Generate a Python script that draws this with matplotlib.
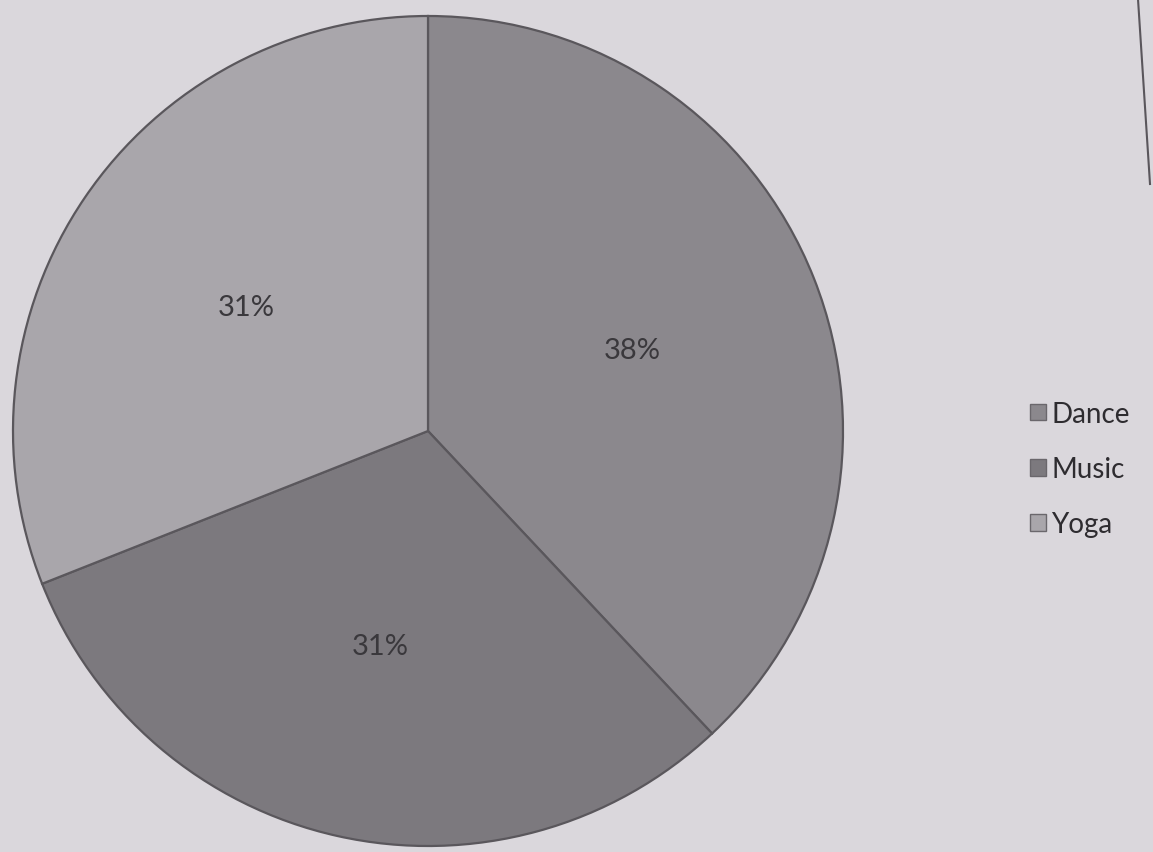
import matplotlib
matplotlib.use('Agg')
import matplotlib.pyplot as plt
from matplotlib.patches import Patch

labels = ['Dance', 'Music', 'Yoga']
shares = [38, 31, 31]
colors = ['#8b888d', '#7c797e', '#a9a6ab']
bg = '#dad7dc'

fig = plt.figure(figsize=(11.53, 8.53), dpi=100, facecolor=bg)
ax = fig.add_axes([0, 0, 1, 1])
ax.set_facecolor(bg)

wedges, texts, autotexts = ax.pie(
    shares, colors=colors, startangle=90, counterclock=False,
    center=(428, 853 - 432), radius=415, frame=True,
    autopct='%d%%', pctdistance=0.53,
    wedgeprops=dict(edgecolor='#5a575c', linewidth=1.6),
    textprops=dict(fontsize=21, color='#3a383c', family='Lato'))
ax.set_xlim(0, 1153)
ax.set_ylim(0, 853)
ax.set_aspect('equal')
ax.axis('off')

handles = [Patch(facecolor=c, edgecolor='#6a676c', label=l) for c, l in zip(colors, labels)]
leg = fig.legend(handles=handles, loc='center left', bbox_to_anchor=(0.872, 0.449),
                 frameon=False, handlelength=0.55, handleheight=0.55,
                 handletextpad=0.2, labelspacing=1.05,
                 prop=dict(family='Lato', size=20))
for t in leg.get_texts():
    t.set_color('#2e2c30')

# chart-area border visible at the top right
fig.add_artist(plt.Line2D([1138 / 1153, 1150 / 1153], [1.0, 1 - 185 / 853],
                          transform=fig.transFigure, color='#5a565c', linewidth=1.5))

plt.savefig('out.png', dpi=100, facecolor=bg)
